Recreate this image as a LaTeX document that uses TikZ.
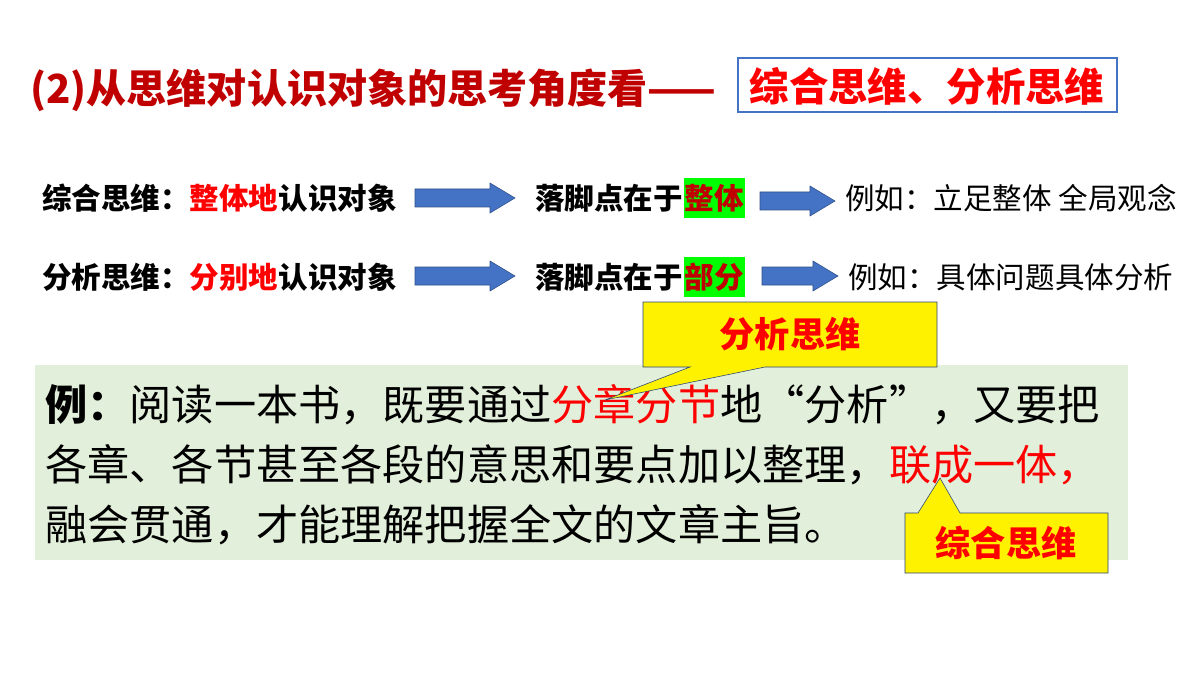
\documentclass[tikz,border=0pt]{standalone}
\usepackage{fontspec}
\setmainfont{Noto Sans CJK SC}
\usepackage{tikz}
\definecolor{darkred}{HTML}{C00000}
\definecolor{boxblue}{HTML}{4472C4}
\definecolor{paleGreen}{HTML}{E2EFDA}
\tikzstyle{rowtext} = [anchor=west, inner sep=0pt, font=\fontsize{21}{23}\selectfont]
\tikzstyle{bigarrow} = [draw=boxblue!70!black, fill=boxblue, thin]
\tikzstyle{hilite} = [fill=green, inner xsep=1pt, inner ysep=4pt, text=darkred, font=\bfseries\fontsize{21}{23}\selectfont]
\tikzstyle{callout} = [fill=yellow, draw=boxblue!60!black, thin]
\tikzstyle{bodytext} = [anchor=west, inner sep=0pt, font=\fontsize{30}{32}\selectfont]
\newcommand{\blockarrow}[3]{% x-start, x-end, y
  \draw[bigarrow] (#1,#3-9) -- (#2-25,#3-9) -- (#2-25,#3-15) -- (#2,#3) -- (#2-25,#3+15) -- (#2-25,#3+9) -- (#1,#3+9) -- cycle;}
\begin{document}
\begin{tikzpicture}[x=0.025cm, y=-0.025cm]
            \useasboundingbox (0,0) rectangle (1200,675);
            % Title
            \node[anchor=west, inner sep=0pt, text=darkred, font=\bfseries\fontsize{28.5}{30}\selectfont] (title) at (30,90) {(2)从思维对认识对象的思考角度看——};
            \draw[boxblue, thick] (738,58) rectangle (1117,112);
            \node[text=red, font=\bfseries\fontsize{28}{30}\selectfont] (kind) at (927,86) {综合思维、分析思维};
            % Rows
            \node[rowtext] (zh) at (42,198) {\bfseries 综合思维：\textcolor{red}{整体地}认识对象};
            \blockarrow{415}{515}{198}
            \node[rowtext] (lj1) at (535,198) {\bfseries 落脚点在于};
            \node[hilite, anchor=west] (zt) at (lj1.east) {整体};
            \blockarrow{760}{835}{201}
            \node[rowtext] (eg1) at (845,198) {例如：立足整体 全局观念};
            \node[rowtext] (fx) at (42,277) {\bfseries 分析思维：\textcolor{red}{分别地}认识对象};
            \blockarrow{415}{515}{276}
            \node[rowtext] (lj2) at (535,277) {\bfseries 落脚点在于};
            \node[hilite, anchor=west] (bf) at (lj2.east) {部分};
            \blockarrow{762}{838}{276}
            \node[rowtext] (eg2) at (848,277) {例如：具体问题具体分析};
            % Example box
            \fill[paleGreen] (35,365) rectangle (1128,560);
            \node[bodytext] (l1) at (45,405) {\textbf{例：}阅读一本书，既要通过\textcolor{red}{分章分节}地“分析”，又要把};
            \node[bodytext] (l2) at (45,465) {各章、各节甚至各段的意思和要点加以整理，\textcolor{red}{联成一体，}};
            \node[bodytext] (l3) at (45,525) {融会贯通，才能理解把握全文的文章主旨。};
            % Callouts
            \draw[callout] (643,302) -- (937,302) -- (937,367) -- (765,367) -- (605,400) -- (690,367) -- (643,367) -- cycle;
            \node[text=red, font=\bfseries\fontsize{25}{27}\selectfont] (c1) at (790,334) {分析思维};
            \draw[callout] (905,513) -- (918,513) -- (940,478) -- (960,513) -- (1108,513) -- (1108,573) -- (905,573) -- cycle;
            \node[text=red, font=\bfseries\fontsize{25}{27}\selectfont] (c2) at (1006,543) {综合思维};
        \end{tikzpicture}
\end{document}
